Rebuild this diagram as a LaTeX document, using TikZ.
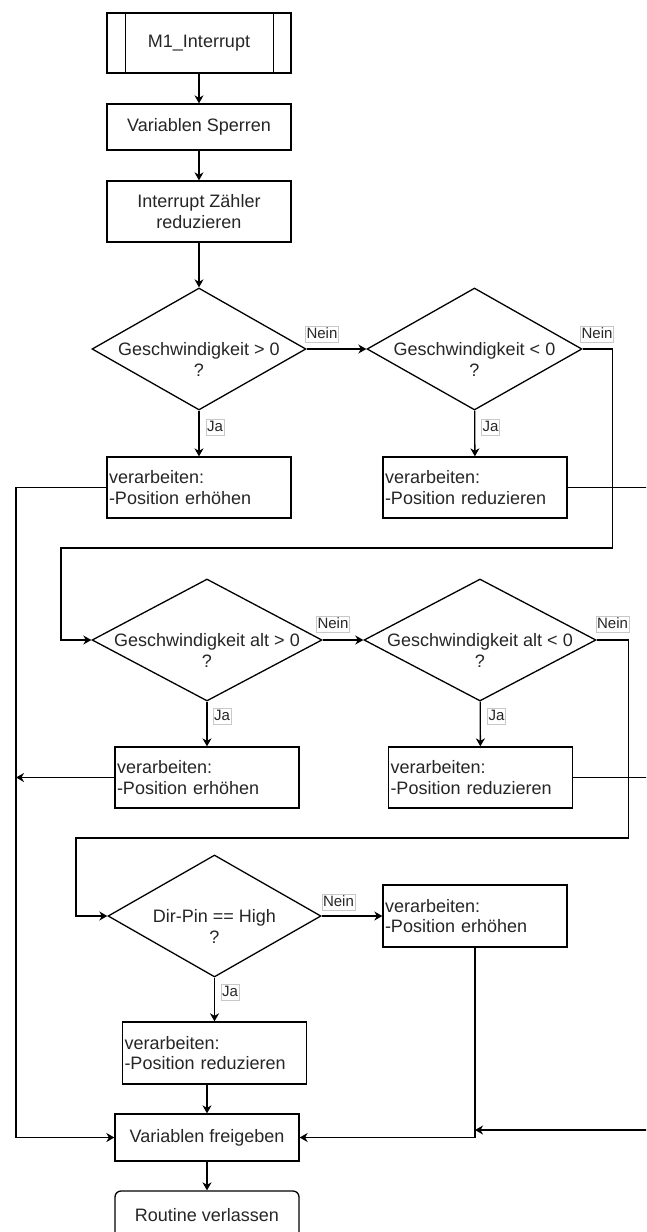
\documentclass[tikz,border=0pt]{standalone}
\usepackage{fontspec}
\setmainfont{Liberation Sans}
\usetikzlibrary{arrows.meta,shapes.geometric,calc}
\definecolor{txt}{RGB}{38,38,38}
\definecolor{tagline}{RGB}{200,200,200}

\begin{document}
\begin{tikzpicture}[x=1pt,y=-1pt,
  line width=1.3pt,
  mainfont/.style={font=\fontsize{18}{20.5}\selectfont, text=txt},
  box/.style={draw, mainfont, minimum width=184pt, minimum height=61pt, inner sep=2pt, align=center},
  procbox/.style={draw, mainfont, text width=180pt, inner xsep=2pt, inner ysep=0pt, minimum height=61pt, align=left},
  decision/.style={draw, diamond, inner sep=0pt, minimum width=214pt, minimum height=122pt},
  dtext/.style={mainfont, align=center, inner sep=0pt},
  tag/.style={draw=tagline, line width=0.6pt, fill=white, font=\fontsize{15}{16}\selectfont, text=txt,
              inner xsep=1pt, inner ysep=1pt, text height=11pt, text depth=3pt},
  flow/.style={-{Stealth[length=8pt,width=9pt,inset=2.5pt]}},
]
\useasboundingbox (0,0) rectangle (646,1232);
\fill[white] (0,0) rectangle (646,1232);
\clip (0,0) rectangle (646,1232);

% start block (predefined process)
\node[box, minimum height=60pt] (m1) at (199,43) {M1\_Interrupt};
\draw ([xshift=19pt]m1.north west) -- ([xshift=19pt]m1.south west);
\draw ([xshift=-18pt]m1.north east) -- ([xshift=-18pt]m1.south east);

\node[box, minimum height=46pt] (vs) at (199,127) {Variablen Sperren};
\node[box] (izr) at (199,211.5) {Interrupt Zähler\\reduzieren};

% first row of decisions
\node[decision] (d1) at (199,349) {};
\node[dtext] (d1t) at ([yshift=-10.5pt]d1.center) {Geschwindigkeit > 0\\?};
\node[procbox] (p1) at (199,487.5) {verarbeiten:\\-Position erhöhen};

\node[decision, minimum width=215pt] (d2) at (474.5,349) {};
\node[dtext] (d2t) at ([yshift=-10.5pt]d2.center) {Geschwindigkeit < 0\\?};
\node[procbox] (p2) at (475,487.5) {verarbeiten:\\-Position reduzieren};

% second row of decisions
\node[decision, minimum width=230pt] (d3) at (207,640) {};
\node[dtext] (d3t) at ([yshift=-10.5pt]d3.center) {Geschwindigkeit alt > 0\\?};
\node[procbox] (p3) at (207,777.5) {verarbeiten:\\-Position erhöhen};

\node[decision, minimum width=232pt] (d4) at (480,640) {};
\node[dtext] (d4t) at ([yshift=-10.5pt]d4.center) {Geschwindigkeit alt < 0\\?};
\node[procbox] (p4) at (480.5,777.5) {verarbeiten:\\-Position reduzieren};

% direction pin decision
\node[decision, minimum width=213pt] (d5) at (214.5,916) {};
\node[dtext] (d5t) at ([yshift=-10.5pt]d5.center) {Dir-Pin == High\\?};
\node[procbox, minimum height=62pt] (p5) at (475,916) {verarbeiten:\\-Position erhöhen};
\node[procbox, minimum height=62pt] (p6) at (214.5,1053) {verarbeiten:\\-Position reduzieren};

% end
\node[box, minimum height=47pt] (vf) at (207,1137.5) {Variablen freigeben};
\node[box, minimum height=48pt, rounded corners=6pt] (rv) at (207,1215) {Routine verlassen};

% loose ends leaving the right border
\coordinate (out1) at (660,487.5);
\coordinate (out2) at (660,777.5);
\coordinate (in1) at (660,1130);

% connectors
\draw[flow] (m1) -- (vs);
\draw[flow] (vs) -- (izr);
\draw[flow] (izr) -- (d1);

\draw[flow] (d1) -- (d2);
\draw[flow] (d1) -- (p1);
\draw[flow] (d2) -- (p2);
\draw[flow] (d2.east) -- ++(30,0) |- (61,548) |- (d3.west);
\draw[flow] (p1.west) -- (16,487.5) |- (vf.west);
\draw (p2.east) -- (out1);

\draw[flow] (d3) -- (d4);
\draw[flow] (d3) -- (p3);
\draw[flow] (d4) -- (p4);
\draw[flow] (d4.east) -- ++(32,0) |- (76,838) |- (d5.west);
\draw[flow] (p3.west) -- (16,777.5);
\draw (p4.east) -- (out2);

\draw[flow] (d5) -- (p5);
\draw[flow] (d5) -- (p6);
\draw[flow] (p6.south -| vf.north) -- (vf.north);
\draw[flow] (p5.south) |- (vf.east);
\draw[flow] (in1) -- (in1 -| p5.south);
\draw[flow] (vf) -- (rv);

% branch labels
\node[tag] (n1) at (322,334) {Nein};
\node[tag] (j1) at (215,427) {Ja};
\node[tag] (n2) at (597,334) {Nein};
\node[tag] (j2) at (490.5,427) {Ja};
\node[tag] (n3) at (333,624) {Nein};
\node[tag] (j3) at (222,716.5) {Ja};
\node[tag] (n4) at (612.5,624) {Nein};
\node[tag] (j4) at (496.5,716.5) {Ja};
\node[tag] (n5) at (338.5,902.5) {Nein};
\node[tag] (j5) at (230,992.5) {Ja};
\end{tikzpicture}
\end{document}
